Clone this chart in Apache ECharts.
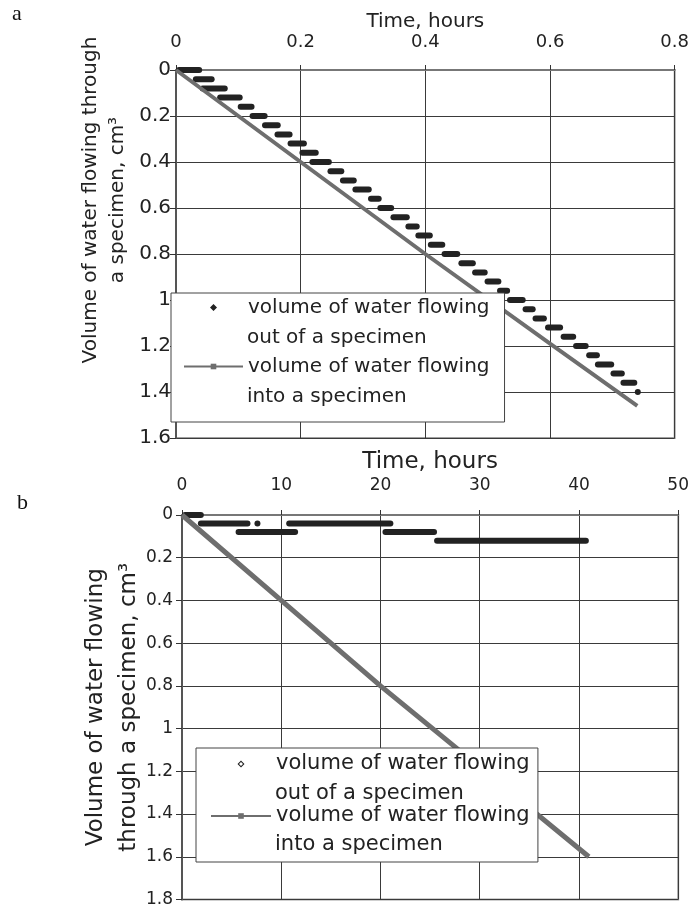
<!DOCTYPE html>
<html>
<head>
<meta charset="utf-8">
<script src="https://cdn.jsdelivr.net/npm/echarts@6/dist/echarts.min.js"></script>
<style>
  html, body { margin: 0; padding: 0; background: #fff; }
  #main { width: 692px; height: 908px; }
</style>
</head>
<body>
<div id="main"></div>
<script>
var FONT = 'DejaVu Sans';
var OUT_NAME = 'volume of water flowing out of a specimen';
var INTO_NAME = 'volume of water flowing into a specimen';

// panel a
var timeTicksA = [0, 0.2, 0.4, 0.6, 0.8];
var volTicksA = [0, 0.2, 0.4, 0.6, 0.8, 1, 1.2, 1.4, 1.6];
// outflow readings: [start time, end time, volume] for each run at one level
var outA = [
  [0, 0.042, 0], [0.027, 0.062, 0.04], [0.038, 0.083, 0.08], [0.066, 0.107, 0.12],
  [0.099, 0.126, 0.16], [0.118, 0.147, 0.2], [0.138, 0.168, 0.24], [0.158, 0.187, 0.28],
  [0.179, 0.21, 0.32], [0.198, 0.229, 0.36], [0.214, 0.25, 0.4], [0.243, 0.27, 0.44],
  [0.263, 0.29, 0.48], [0.283, 0.314, 0.52], [0.308, 0.33, 0.56], [0.323, 0.35, 0.6],
  [0.344, 0.375, 0.64], [0.368, 0.391, 0.68], [0.384, 0.412, 0.72], [0.404, 0.432, 0.76],
  [0.426, 0.456, 0.8], [0.453, 0.481, 0.84], [0.475, 0.5, 0.88], [0.495, 0.522, 0.92],
  [0.515, 0.536, 0.96], [0.531, 0.561, 1], [0.556, 0.577, 1.04], [0.572, 0.595, 1.08],
  [0.592, 0.621, 1.12], [0.617, 0.642, 1.16], [0.637, 0.662, 1.2], [0.658, 0.68, 1.24],
  [0.672, 0.703, 1.28], [0.697, 0.72, 1.32], [0.713, 0.74, 1.36], [0.736, 0.744, 1.4]
];
var intoA = [[0, 0], [0.2, 0.4], [0.4, 0.8], [0.6, 1.19], [0.74, 1.46]];

// panel b
var timeTicksB = [0, 10, 20, 30, 40, 50];
var volTicksB = [0, 0.2, 0.4, 0.6, 0.8, 1, 1.2, 1.4, 1.6, 1.8];
var outB = [
  [0, 2.2, 0],
  [1.6, 6.9, 0.04], [7.3, 7.7, 0.04], [10.5, 21.3, 0.04],
  [5.4, 11.7, 0.08], [20.2, 25.7, 0.08],
  [25.4, 41, 0.12]
];
var intoB = [[0, 0], [10, 0.4], [20, 0.8], [30, 1.18], [41, 1.6]];

// legend markers: a zero-area base line keeps the diamond small and centred
var DIAMOND_A = 'path://M0,3.5L59,3.5L0,3.5Z M26,3.5L29.5,0L33,3.5L29.5,7Z';
var DIAMOND_B = 'path://M0,3.5L60,3.5L0,3.5Z M26.5,3.5L30,0L33.5,3.5L30,7Z M28,3.5L30,5.5L32,3.5L30,1.5Z';

function renderRun(params, api) {
  var p0 = api.coord([api.value(0), api.value(2)]);
  var p1 = api.coord([api.value(1), api.value(2)]);
  var h = 6;
  return {
    type: 'rect',
    shape: { x: p0[0], y: p0[1] - h / 2, width: Math.max(p1[0] - p0[0], h), height: h, r: h / 2 },
    style: { fill: api.visual('color') }
  };
}

function xAxisOf(grid, ticks, nameGap, nameSize, labelSize, labelMargin) {
  return {
    gridIndex: grid, type: 'value', position: 'top',
    min: ticks[0], max: ticks[ticks.length - 1], interval: ticks[1] - ticks[0],
    name: 'Time, hours', nameLocation: 'middle', nameGap: nameGap, nameMoveOverlap: false,
    nameTextStyle: { fontFamily: FONT, fontSize: nameSize, color: '#222' },
    axisLine: { show: true, onZero: false, lineStyle: { color: '#777', width: 2 } },
    axisTick: { show: true, length: 5, lineStyle: { color: '#333' } },
    axisLabel: { margin: labelMargin, fontFamily: FONT, fontSize: labelSize, color: '#222' },
    splitLine: { show: true, lineStyle: { color: '#3a3a3a', width: 1 } }
  };
}

function yAxisOf(grid, ticks, name, nameGap, nameSize, lineH, namePad, labelSize, labelMargin) {
  return {
    gridIndex: grid, type: 'value', inverse: true,
    min: ticks[0], max: ticks[ticks.length - 1], interval: ticks[1] - ticks[0],
    name: name, nameLocation: 'middle', nameGap: nameGap, nameRotate: 90, nameMoveOverlap: false,
    nameTextStyle: { fontFamily: FONT, fontSize: nameSize, lineHeight: lineH, color: '#222', padding: namePad },
    axisLine: { show: true, onZero: false, lineStyle: { color: '#555', width: 2 } },
    axisTick: { show: true, length: 6, lineStyle: { color: '#333' } },
    axisLabel: { margin: labelMargin, fontFamily: FONT, fontSize: labelSize, color: '#222' },
    splitLine: { show: true, lineStyle: { color: '#3a3a3a', width: 1 } }
  };
}

function legendPair(id, left, top, top2, gap, gap2, itemW, fontSize, lineH, pad, outIcon) {
  var text = { fontFamily: FONT, fontSize: fontSize, lineHeight: lineH, color: '#222' };
  return [{
    id: id + '1', orient: 'vertical', left: left, top: top, padding: pad,
    itemGap: gap, itemWidth: itemW, itemHeight: 7, selectedMode: false,
    backgroundColor: '#fff', borderColor: '#444', borderWidth: 1,
    data: [{ name: OUT_NAME, icon: outIcon }, { name: INTO_NAME }],
    lineStyle: { width: 2 },
    textStyle: text,
    formatter: function () { return 'volume of water flowing'; }
  }, {
    id: id + '2', orient: 'vertical', left: left, top: top2, padding: [0, 0, 0, pad[3]],
    itemGap: gap2, itemWidth: itemW, itemHeight: 7, selectedMode: false, z: 5,
    data: [{ name: OUT_NAME, icon: 'rect' }, { name: INTO_NAME, icon: 'rect' }],
    itemStyle: { color: 'rgba(0,0,0,0)', opacity: 0, borderWidth: 0 },
    textStyle: text,
    formatter: function (name) { return name.replace('volume of water flowing ', ''); }
  }];
}

var chart = echarts.init(document.getElementById('main'), null, { renderer: 'canvas' });

var option = {
  animation: false,
  backgroundColor: '#fff',
  title: [
    { text: 'a', left: 12, top: 3, padding: 0, textStyle: { fontFamily: 'Liberation Serif', fontSize: 22, fontWeight: 'normal', color: '#111' } },
    { text: 'b', left: 17, top: 492, padding: 0, textStyle: { fontFamily: 'Liberation Serif', fontSize: 22, fontWeight: 'normal', color: '#111' } }
  ],
  grid: [
    { left: 176, top: 70, width: 501, height: 368, show: true, borderColor: '#a0a0a0', borderWidth: 2 },
    { left: 182, top: 515, width: 497, height: 387, show: true, borderColor: '#a0a0a0', borderWidth: 2 }
  ],
  xAxis: [
    xAxisOf(0, timeTicksA, 38, 20, 18, 19),
    xAxisOf(1, timeTicksB, 41, 23, 17, 21)
  ],
  yAxis: [
    yAxisOf(0, volTicksA, 'Volume of water flowing through\na specimen, cm³', 45, 20, 27, [0, 0, 0, 108], 20, 5),
    yAxisOf(1, volTicksB, 'Volume of water flowing\nthrough a specimen, cm³', 36, 23, 33, 0, 17, 9)
  ],
  legend: legendPair('la', 171, 293, 323.5, 30, 30, 59, 20, 29, [0, 15, 41, 12], DIAMOND_A)
    .concat(legendPair('lb', 196, 748, 779, 22, 21, 60, 21, 30, [1, 8.3, 31, 14], DIAMOND_B)),
  series: [
    { type: 'custom', name: OUT_NAME, xAxisIndex: 0, yAxisIndex: 0, data: outA,
      encode: { x: [0, 1], y: 2 }, renderItem: renderRun, itemStyle: { color: '#222' }, z: 2 },
    { type: 'line', name: INTO_NAME, xAxisIndex: 0, yAxisIndex: 0, data: intoA,
      showSymbol: false, symbol: 'rect', lineStyle: { color: '#6e6e6e', width: 4 },
      itemStyle: { color: '#6e6e6e' }, z: 3 },
    { type: 'custom', name: OUT_NAME, xAxisIndex: 1, yAxisIndex: 1, data: outB,
      encode: { x: [0, 1], y: 2 }, renderItem: renderRun, itemStyle: { color: '#222' }, z: 2 },
    { type: 'line', name: INTO_NAME, xAxisIndex: 1, yAxisIndex: 1, data: intoB,
      showSymbol: false, symbol: 'rect', lineStyle: { color: '#6e6e6e', width: 5 },
      itemStyle: { color: '#6e6e6e' }, z: 3 }
  ]
};

chart.setOption(option);
</script>
</body>
</html>
